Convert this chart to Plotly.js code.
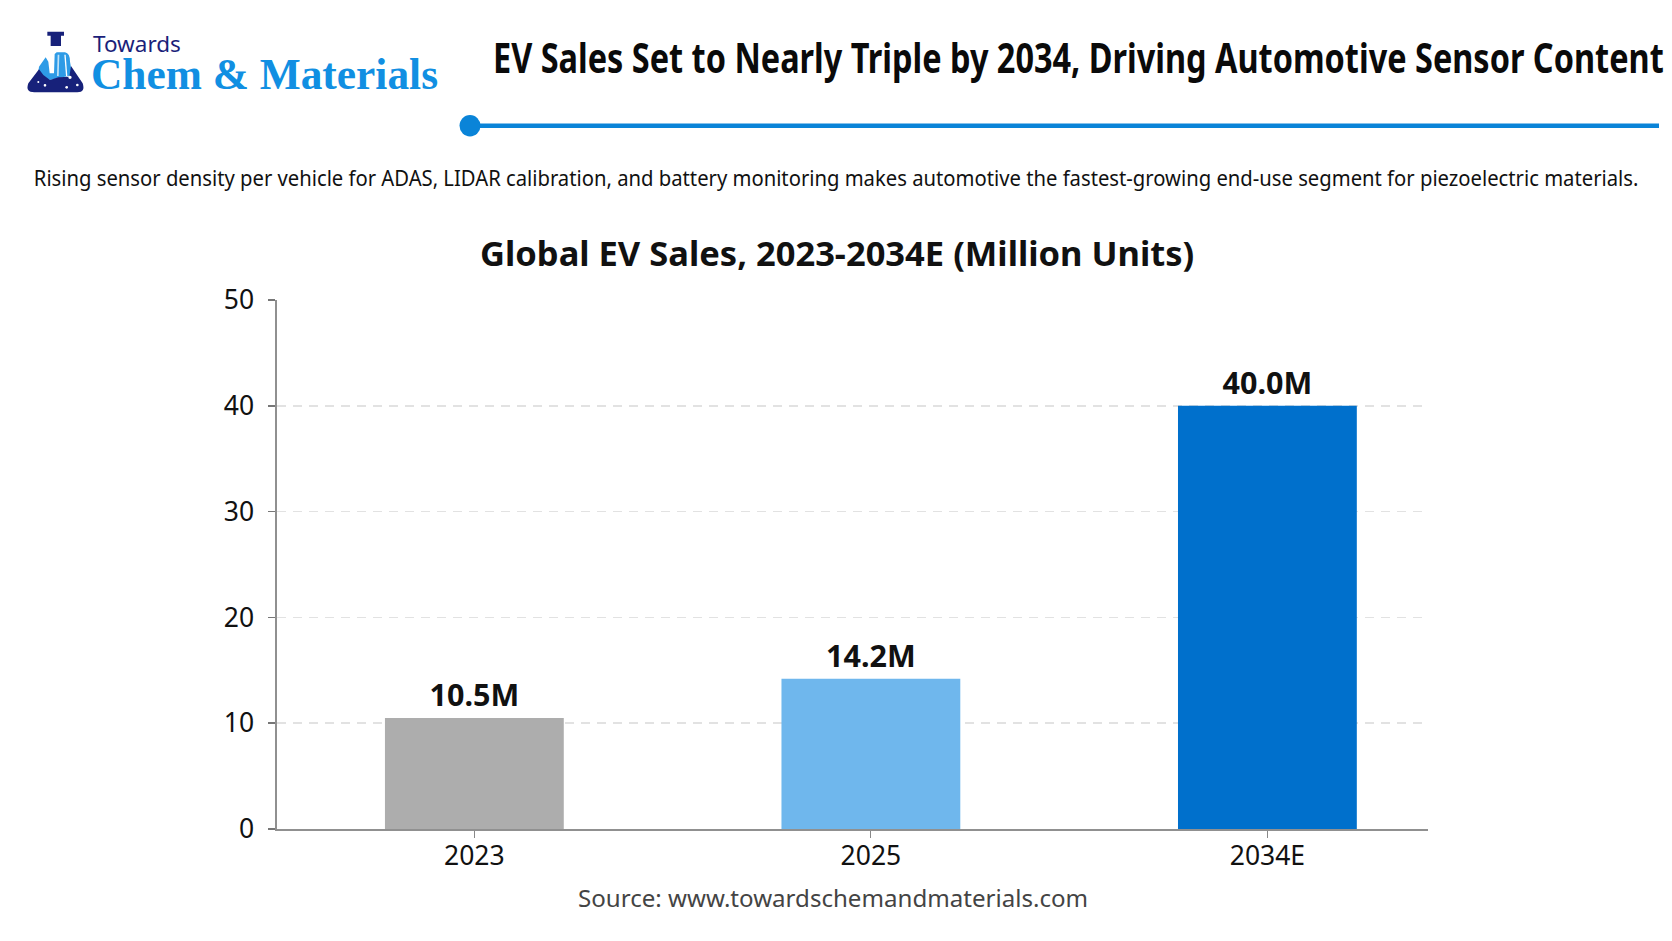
<!DOCTYPE html>
<html>
<head>
<meta charset="utf-8">
<script src="https://cdn.plot.ly/plotly-3.0.1.min.js"></script>
<style>html,body{margin:0;padding:0;background:#fff;overflow:hidden}#chart{width:1672px;height:941px}</style>
</head>
<body>
<div id="chart"></div>
<script>
const years = ['2023', '2025', '2034E'];
const sales = [10.5, 14.2, 40.0];
const valueLabels = ['10.5M', '14.2M', '40.0M'];
const barColors = ['#ADADAD', '#6FB7ED', '#0070CC'];
const yTicks = [0, 10, 20, 30, 40, 50];
const mainTitle = 'EV Sales Set to Nearly Triple by 2034, Driving Automotive Sensor Content';
const subTitle = 'Rising sensor density per vehicle for ADAS, LIDAR calibration, and battery monitoring makes automotive the fastest-growing end-use segment for piezoelectric materials.';
const chartTitle = 'Global EV Sales, 2023-2034E (Million Units)';
const sourceText = 'Source: www.towardschemandmaterials.com';

const W = 1672, H = 941;
const fx = x => x / W, fy = y => 1 - y / H;
const SANS = '"Noto Sans", "Open Sans", sans-serif';
const crop = (x, y) => (fx(15 + x / 3)).toFixed(5) + ',' + (fy(20 + y / 3)).toFixed(5);
const path = (s) => s.replace(/(-?[\d.]+) (-?[\d.]+)/g, (m, a, b) => crop(+a, +b));
const NAVY = '#17217A', SKY = '#2E9BE6';
const logoShape = (d, c) => ({type: 'path', xref: 'paper', yref: 'paper', path: path(d), fillcolor: c, line: {width: 0}, layer: 'above'});
const dot = (cx, cy, r) => ({type: 'circle', xref: 'paper', yref: 'paper',
  x0: fx(15 + (cx - r) / 3), x1: fx(15 + (cx + r) / 3), y0: fy(20 + (cy + r) / 3), y1: fy(20 + (cy - r) / 3),
  fillcolor: '#ffffff', line: {width: 0}, layer: 'above'});

const shapes = [
  logoShape('M 97 35 L 147 35 L 147 47 L 138 47 L 138 78 L 107 78 L 107 47 L 97 47 Z', NAVY),
  logoShape('M 125 97 L 150 97 Q 165 100 165 125 L 172 165 L 130 175 L 105 180 L 68 170 L 72 140 L 92 112 L 100 125 L 104 160 L 117 160 L 119 102 Z', SKY),
  logoShape('M 128 104 L 133 104 L 131 168 L 126 168 Z', '#BFE2F8'),
  logoShape('M 148 104 L 152 104 L 157 168 L 153 168 Z', '#FFFFFF'),
  logoShape('M 72 148 L 40 190 Q 30 217 58 217 L 187 217 Q 212 217 203 190 L 168 138 L 163 170 L 130 172 L 105 180 L 85 165 Z', NAVY),
  dot(90, 196, 4), dot(155, 202, 4), dot(187, 195, 4), dot(165, 172, 5), dot(70, 186, 3),
  {type: 'line', xref: 'paper', yref: 'paper', x0: fx(470), x1: fx(1659), y0: fy(125.7), y1: fy(125.7), line: {color: '#0A84D8', width: 4.4}},
  {type: 'circle', xref: 'paper', yref: 'paper', x0: fx(459.5), x1: fx(480.5), y0: fy(136.5), y1: fy(115), fillcolor: '#0A84D8', line: {width: 0}}
];

const note = (text, x, y, size, color, opts) => Object.assign({
  text, xref: 'paper', yref: 'paper', x: fx(x), y: fy(y), xanchor: 'left', yanchor: 'middle',
  showarrow: false, borderpad: 0, font: {family: SANS, size, color}
}, opts || {});

const annotations = [
  note('Towards', 92, 43, 22.5, '#1B1F7A'),
  note('Chem &amp; Materials', 90, 74, 43.4, '#118FE2', {font: {family: '"Liberation Serif", serif', size: 43.4, color: '#118FE2', weight: 700}}),
  note(subTitle, 837.5, 177, 22, '#111111', {xanchor: 'center'}),
  note(chartTitle, 479, 252.5, 34.5, '#111111', {font: {family: SANS, size: 34.5, color: '#111111', weight: 700}}),
  note(sourceText, 577, 897, 24.1, '#444444')
];

const trace = {
  type: 'bar', x: years, y: sales, text: valueLabels, textposition: 'outside', cliponaxis: false,
  textfont: {family: SANS, size: 30.5, color: '#111111', weight: 700},
  marker: {color: barColors, line: {width: 0}}, hoverinfo: 'skip'
};

const layout = {
  width: W, height: H, autosize: false, showlegend: false,
  paper_bgcolor: '#ffffff', plot_bgcolor: '#ffffff',
  margin: {l: 0, r: 0, t: 0, b: 0, pad: 0},
  bargap: 0.549,
  title: {text: mainTitle, xref: 'paper', yref: 'paper', x: fx(493), xanchor: 'left', y: fy(59), yanchor: 'middle',
    font: {family: SANS, size: 41, color: '#0A0A0A', weight: 700}},
  xaxis: {
    domain: [fx(276.5), fx(1428)], type: 'category', categoryorder: 'array', categoryarray: years,
    range: [-0.499, 2.405], fixedrange: true,
    showline: true, linecolor: '#909090', linewidth: 2, ticks: 'outside', ticklen: 7, tickwidth: 1, tickcolor: '#888888',
    tickfont: {family: SANS, size: 26.5, color: '#111111'}, ticklabelstandoff: -5, showgrid: false, zeroline: false, automargin: false
  },
  yaxis: {
    domain: [fy(829), fy(300)], range: [0, 50], tickvals: yTicks, fixedrange: true,
    showline: true, linecolor: '#909090', linewidth: 2, ticks: 'outside', ticklen: 7, tickwidth: 1.5, tickcolor: '#777777',
    tickfont: {family: SANS, size: 26.5, color: '#111111'}, ticklabelstandoff: 8,
    showgrid: true, gridcolor: '#E2E2E2', gridwidth: 1.5, griddash: '9px,7px', zeroline: false, automargin: false
  },
  shapes, annotations
};

Plotly.newPlot('chart', [trace], layout, {displayModeBar: false, staticPlot: true}).then(gd => {
  // Condense the two long headings horizontally to the reference's narrow letterforms.
  const fit = {[mainTitle]: {left: 493, len: 1171}, [subTitle]: {left: 36, len: 1606}};
  gd.querySelectorAll('svg text').forEach(t => {
    const f = fit[t.textContent];
    if (!f) return;
    const box = t.getBoundingClientRect();
    const s = f.len / box.width;
    const cx = box.left - gd.getBoundingClientRect().left;
    t.setAttribute('transform', `translate(${f.left},0) scale(${s},1) translate(${-cx},0) ` + (t.getAttribute('transform') || ''));
  });
});
</script>
</body>
</html>
